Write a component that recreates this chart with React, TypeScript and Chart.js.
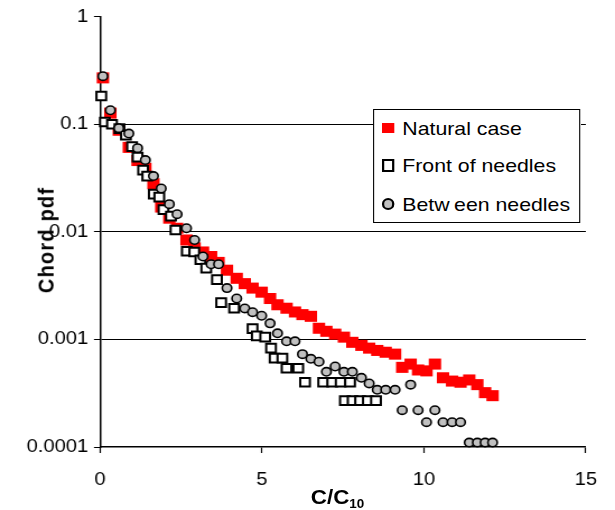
import React, { useEffect, useRef } from 'react';
import { Chart, registerables } from 'chart.js';

Chart.register(...registerables);

// The figure is drawn on a narrower canvas and widened horizontally,
// which gives the broad lettering and slightly oval markers of the original.
const W = 549;
const H = 510;
const STRETCH = 615 / W;
const FONT = "'Liberation Sans', Arial, Helvetica, sans-serif";

// Chord length normalised by C10 (shared by the natural case and the between-needles set)
const chordRatio = [
  0.09, 0.32, 0.58, 0.89, 1.16, 1.4, 1.65, 1.89, 2.14, 2.38, 2.67, 2.92, 3.18, 3.43, 3.66, 3.92,
  4.22, 4.47, 4.71, 4.99, 5.25, 5.48, 5.76, 6.02, 6.25, 6.51, 6.76, 6.99, 7.26, 7.53, 7.79, 8.07,
  8.31, 8.56, 8.82, 9.11, 9.33, 9.59, 9.82, 10.08, 10.34, 10.59, 10.87, 11.13, 11.4, 11.65, 11.89, 12.12,
];

const naturalCase = [
  0.27, 0.127, 0.088, 0.061, 0.046, 0.039, 0.028, 0.017, 0.0134, 0.0108, 0.0084, 0.0071, 0.0065, 0.0059, 0.0052, 0.0044,
  0.0037, 0.0033, 0.003, 0.00275, 0.0024, 0.0021, 0.00195, 0.0018, 0.0017, 0.00164, 0.00127, 0.00119, 0.00112, 0.00105, 0.00094, 0.00088,
  0.00083, 0.00079, 0.00076, 0.00073, 0.00055, 0.00059, 0.00052, 0.00051, 0.00059, 0.00044, 0.00041, 0.0004, 0.00042, 0.00038, 0.00032, 0.0003,
];

const betweenNeedles = [
  0.28, 0.135, 0.092, 0.082, 0.06, 0.0465, 0.033, 0.0253, 0.0181, 0.0146, 0.0108, 0.0084, 0.0059, 0.005, 0.005, 0.003,
  0.0024, 0.00194, 0.00179, 0.00166, 0.00141, 0.00114, 0.00096, 0.00096, 0.00073, 0.00066, 0.00062, 0.0005, 0.00056, 0.0005, 0.0005, 0.00044,
  0.00039, 0.00034, 0.00034, 0.00034, 0.00022, 0.00038, 0.00022, 0.00017, 0.00022, 0.00017, 0.00017, 0.00017, 0.00011, 0.00011, 0.00011, 0.00011,
];

// Front-of-needles set has its own chord positions
const frontRatio = [
  0.04, 0.15, 0.37, 0.6, 0.8, 0.99, 1.16, 1.33, 1.46, 1.66, 1.83, 1.96, 2.19, 2.33, 2.68, 2.91,
  3.1, 3.28, 3.61, 3.74, 4.14, 4.71, 4.84, 5.1, 5.28, 5.39, 5.63, 5.76, 6.12, 6.33, 6.89, 7.17,
  7.43, 7.56, 7.72, 7.8, 8.03, 8.27, 8.52,
];

const frontOfNeedles = [
  0.183, 0.105, 0.1, 0.091, 0.079, 0.062, 0.0495, 0.0375, 0.033, 0.0224, 0.021, 0.0161, 0.014, 0.0104, 0.0066, 0.0065,
  0.0055, 0.0046, 0.0036, 0.0022, 0.00195, 0.00126, 0.00108, 0.00105, 0.00083, 0.00067, 0.00067, 0.00054, 0.00054, 0.0004, 0.0004, 0.0004,
  0.0004, 0.00027, 0.0004, 0.00027, 0.00027, 0.00027, 0.00027,
];

const xTickValues = [0, 5, 10, 15];
const yTickValues = [1, 0.1, 0.01, 0.001, 0.0001];

const seriesNames = ['Natural case', 'Front of needles', 'Between needles'];

function pairs(xs: number[], ys: number[]) {
  return xs.map((x, i) => ({ x, y: ys[i] }));
}

export default function App() {
  const canvasRef = useRef<HTMLCanvasElement | null>(null);

  useEffect(() => {
    const canvas = canvasRef.current;
    if (!canvas) return;
    const chart = new Chart(canvas, {
      type: 'scatter',
      data: {
        datasets: [
          {
            label: seriesNames[0],
            data: pairs(chordRatio, naturalCase),
            pointStyle: 'rect',
            pointRadius: 7.8,
            backgroundColor: '#ff0000',
            borderColor: '#ff0000',
            borderWidth: 0,
            order: 3,
            clip: false,
          },
          {
            label: seriesNames[1],
            data: pairs(frontRatio, frontOfNeedles),
            pointStyle: 'rect',
            pointRadius: 6.1,
            backgroundColor: '#ffffff',
            borderColor: '#000000',
            borderWidth: 2,
            order: 2,
            clip: false,
          },
          {
            label: seriesNames[2],
            data: pairs(chordRatio, betweenNeedles),
            pointStyle: 'circle',
            pointRadius: 4.2,
            backgroundColor: '#c0c0c0',
            borderColor: '#000000',
            borderWidth: 1.6,
            order: 1,
            clip: false,
          },
        ],
      },
      options: {
        responsive: false,
        animation: false,
        devicePixelRatio: 1,
        events: [],
        layout: { padding: { top: 16.7, right: 25, bottom: 0, left: 0 } },
        plugins: {
          legend: { display: false },
          tooltip: { enabled: false },
        },
        scales: {
          x: {
            type: 'linear',
            min: 0,
            max: 15,
            afterBuildTicks: (scale: any) => {
              scale.ticks = xTickValues.map((v) => ({ value: v }));
            },
            afterFit: (scale: any) => {
              scale.height = 63;
            },
            grid: {
              drawOnChartArea: false,
              tickLength: 6,
              tickColor: '#000',
              tickWidth: 1.2,
            },
            border: { color: '#000', width: 1.5 },
            ticks: {
              font: { family: FONT, size: 18 },
              color: '#000',
              padding: 16,
              maxRotation: 0,
              autoSkip: false,
            },
          },
          y: {
            type: 'logarithmic',
            min: 0.0001,
            max: 1,
            afterBuildTicks: (scale: any) => {
              scale.ticks = yTickValues.map((v) => ({ value: v }));
            },
            afterFit: (scale: any) => {
              scale.width = 89.27;
            },
            grid: {
              color: (ctx: any) =>
                ctx.tick && (ctx.tick.value === 1 || ctx.tick.value === 0.0001) ? 'rgba(0,0,0,0)' : '#000',
              tickColor: '#000',
              tickLength: 5.4,
              lineWidth: 1,
            },
            border: { color: '#000', width: 1.5 },
            ticks: {
              font: { family: FONT, size: 18 },
              color: '#000',
              padding: 5,
              autoSkip: false,
              callback: (v: any) => String(v),
            },
          },
        },
      } as any,
    });
    return () => chart.destroy();
  }, []);

  const legendText: React.CSSProperties = {
    position: 'absolute',
    left: 25.1,
    fontSize: 19,
    lineHeight: 1,
    whiteSpace: 'nowrap',
  };

  return (
    <div style={{ position: 'absolute', left: 0, top: 0, width: 615, height: 510, overflow: 'hidden', background: '#fff' }}>
      <div
        style={{
          position: 'absolute',
          left: 0,
          top: 0,
          width: W,
          height: H,
          transform: `scaleX(${STRETCH})`,
          transformOrigin: '0 0',
          fontFamily: FONT,
          color: '#000',
        }}
      >
        <canvas ref={canvasRef} width={W} height={H} style={{ position: 'absolute', left: 0, top: 0, width: W, height: H }} />

        <div
          style={{
            position: 'absolute',
            left: 41.1,
            top: 240,
            transform: 'translate(-50%, -50%) rotate(-90deg)',
            fontWeight: 'bold',
            fontSize: 20,
            lineHeight: 1,
            letterSpacing: 1.2,
            whiteSpace: 'nowrap',
          }}
        >
          Chord pdf
        </div>

        <div
          style={{
            position: 'absolute',
            left: 301.3,
            top: 487.4,
            transform: 'translateX(-50%)',
            fontWeight: 'bold',
            fontSize: 20,
            lineHeight: 1,
            whiteSpace: 'nowrap',
          }}
        >
          C/C<span style={{ fontSize: 12, position: 'relative', top: 4 }}>10</span>
        </div>

        <div
          style={{
            position: 'absolute',
            left: 333,
            top: 109,
            width: 185,
            height: 114,
            border: '1px solid #000',
            boxSizing: 'border-box',
            background: '#fff',
          }}
        >
          <div style={{ position: 'absolute', left: 6.7, top: 12.7, width: 11.5, height: 10.6, background: '#ff0000' }} />
          <div
            style={{
              position: 'absolute',
              left: 6.7,
              top: 49.3,
              width: 11.3,
              height: 12.3,
              border: '2px solid #000',
              boxSizing: 'border-box',
              background: '#fff',
            }}
          />
          <div
            style={{
              position: 'absolute',
              left: 6.7,
              top: 88.3,
              width: 11.5,
              height: 11.7,
              border: '2px solid #000',
              borderRadius: '50%',
              boxSizing: 'border-box',
              background: '#c0c0c0',
            }}
          />
          <div style={{ ...legendText, top: 8.7 }}>{seriesNames[0]}</div>
          <div style={{ ...legendText, top: 45.7 }}>{seriesNames[1]}</div>
          <div style={{ ...legendText, top: 84.9 }}>
            Betw<span style={{ marginLeft: 4 }}>een needles</span>
          </div>
        </div>
      </div>
    </div>
  );
}
